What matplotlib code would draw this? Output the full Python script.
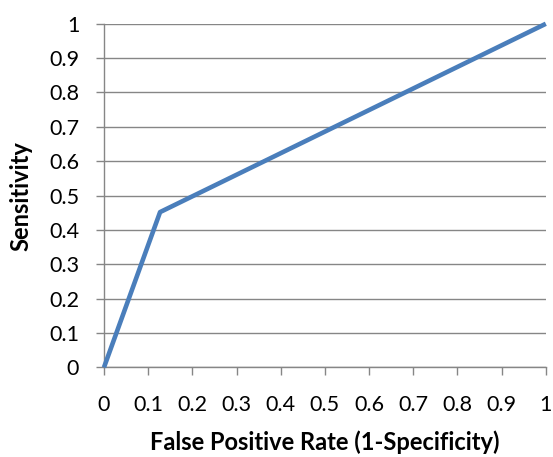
import matplotlib
matplotlib.use("Agg")
import matplotlib.pyplot as plt

fpr = [0.0, 0.127, 1.0]
tpr = [0.0, 0.452, 1.0]
ticks = [0, 0.1, 0.2, 0.3, 0.4, 0.5, 0.6, 0.7, 0.8, 0.9, 1]
tick_labels = ["0", "0.1", "0.2", "0.3", "0.4", "0.5", "0.6", "0.7", "0.8", "0.9", "1"]
xlabel = "False Positive Rate (1-Specificity)"
ylabel = "Sensitivity"

plt.rcParams['font.family'] = ['Lato', 'DejaVu Sans']
fig = plt.figure(figsize=(5.53, 4.57), dpi=100)
ax = fig.add_axes([0.188, 0.196, 0.799, 0.752])
ax.plot(fpr, tpr, color="#4A7EBB", lw=3.3, solid_capstyle="butt", zorder=3, clip_on=False)
ax.set_xlim(0, 1)
ax.set_ylim(0, 1)
ax.set_xticks(ticks)
ax.set_xticklabels(tick_labels)
ax.set_yticks(ticks)
ax.set_yticklabels(tick_labels)
ax.yaxis.grid(True, color="#868686", lw=1)
ax.set_axisbelow(True)
for s in ["top", "right"]:
    ax.spines[s].set_visible(False)
for s in ["left", "bottom"]:
    ax.spines[s].set_color("#868686")
    ax.spines[s].set_linewidth(1)
ax.tick_params(axis="both", color="#868686", length=5.8, width=1, labelsize=15.5, labelcolor="black")
ax.tick_params(axis="x", pad=14)
ax.tick_params(axis="y", pad=12)
ax.set_xlabel(xlabel, fontsize=17, fontweight="bold", labelpad=11)
ax.set_ylabel(ylabel, fontsize=17, fontweight="bold", labelpad=12)
fig.savefig("out.png", dpi=100)
